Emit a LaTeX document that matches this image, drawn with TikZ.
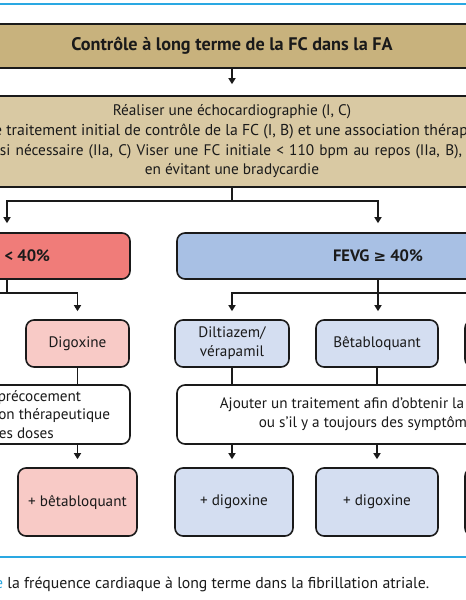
\documentclass[tikz,border=0pt]{standalone}
\usepackage{fontspec}
\setmainfont{PT Sans}
\newfontfamily\symfont{DejaVu Sans}
\usetikzlibrary{arrows.meta}
\definecolor{tanA}{HTML}{C8B27D}
\definecolor{tanB}{HTML}{D9C9A3}
\definecolor{redA}{HTML}{F07C79}
\definecolor{redB}{HTML}{F8CAC6}
\definecolor{blueA}{HTML}{A8C0E4}
\definecolor{blueB}{HTML}{D4DEF1}
\definecolor{capblue}{HTML}{2AA8E2}
\definecolor{ink}{HTML}{1A1A1A}
\begin{document}
\begin{tikzpicture}[x=1pt,y=-1pt,
  every node/.style={text=ink},
  box/.style={draw=ink, line width=1.6pt, inner sep=0pt, align=center},
  rbox/.style={box, rounded corners=8pt},
  conn/.style={draw=ink, line width=1.4pt},
  arr/.style={conn, -{Triangle[width=7pt,length=6pt]}},
  txt/.style={font=\fontsize{15.2}{18.5}\selectfont},
  btxt/.style={font=\fontsize{16.5}{19}\selectfont\bfseries}]
\useasboundingbox (0,0) rectangle (466,600);
\clip (0,0) rectangle (466,600);
\fill[white] (0,0) rectangle (466,600);
\draw[capblue, line width=1.3pt] (-5,4) -- (471,4);
\draw[capblue, line width=1.3pt] (-5,557) -- (471,557);

\node[box, fill=tanA, minimum width=540, minimum height=44, font=\fontsize{18.2}{20}\selectfont\bfseries] (title) at (232,46) {Contrôle à long terme de la FC dans la FA};
\node[box, fill=tanB, minimum width=560, minimum height=91, font=\fontsize{15.3}{19.7}\selectfont] (init) at (232,141.5)
  {Réaliser une échocardiographie (I, C)\\
   {\fontsize{15.74}{19.7}\selectfont Instaurer le traitement initial de contrôle de la FC (I, B) et une association thérapeutique}\rule{20pt}{0pt}\\
   \makebox[462pt][s]{si nécessaire (IIa, C) Viser une FC initiale < 110 bpm au repos (IIa, B),}\rule{2pt}{0pt}\\
   en évitant une bradycardie};

\node[rbox, fill=redA, minimum width=246, minimum height=46, btxt] (low) at (7,256) {FEVG < 40\%};
\node[rbox, fill=blueA, minimum width=402, minimum height=46, btxt] (high) at (378,256) {FEVG {\symfont\fontsize{15}{19}\selectfont ≥} 40\%};

\node[rbox, fill=redB, minimum width=103, minimum height=47, txt] (dig) at (77.5,343.5) {Digoxine};
\node[rbox, fill=blueB, minimum width=114, minimum height=47, txt, font=\fontsize{15.2}{19}\selectfont] (dil) at (232,343.5) {Diltiazem/\\vérapamil};
\node[rbox, fill=blueB, minimum width=122, minimum height=47, txt] (beta) at (377,343.5) {Bêtabloquant};
\node[rbox, fill=blueB, minimum width=116, minimum height=47] (far) at (523,343.5) {};

\node[rbox, fill=white, minimum width=246, minimum height=59, txt] (comb) at (7,414.5) {};
\node[font=\fontsize{15.2}{18.5}\selectfont, align=center] (combtxt) at (6,414.5)
  {Envisager précocement\\\rule{12pt}{0pt}une association thérapeutique\\à faibles doses};
\node[rbox, fill=white, minimum width=386, minimum height=59, txt, font=\fontsize{15.2}{19}\selectfont] (add) at (370,414.5)
  {Ajouter un traitement afin d’obtenir la FC cible\\ou s’il y a toujours des symptômes};

\node[rbox, fill=redB, minimum width=119, minimum height=68, txt] (b1) at (77.5,502) {+ bêtabloquant};
\node[rbox, fill=blueB, minimum width=118, minimum height=68, txt] (b2) at (234,502) {+ digoxine};
\node[rbox, fill=blueB, minimum width=122, minimum height=68, txt] (b3) at (377,502) {+ digoxine};
\node[rbox, fill=blueB, minimum width=120, minimum height=68] (b4) at (525,502) {};

\node[anchor=base west, font=\fontsize{15.8}{18}\selectfont, inner sep=0pt] (cap) at (-5,588)
  {{\color{capblue}e} la fréquence cardiaque à long terme dans la fibrillation atriale.};

% connectors
\draw[arr, shorten >=11pt] (title.south) -- (init.north);
\draw[conn] (init.south) -- ++(0,13) coordinate (j1);
\draw[arr, shorten >=9pt] (j1) -| (low.north);
\draw[arr, shorten >=9pt] (j1) -| (high.north);

\draw[conn] (low.south) -- ++(0,13) coordinate (j2);
\draw[conn] (j2) -- ++(-80,0);
\draw[arr, shorten >=8pt] (j2) -| (dig.north);

\draw[conn] (high.south) -- ++(0,13) coordinate (j3);
\draw[arr, shorten >=8pt] (j3) -| (dil.north);
\draw[arr, shorten >=8pt] (j3) -- (j3 |- beta.north);
\draw[arr, shorten >=8pt] (j3) -| (far.north);

\draw[conn] (dig.south) -- (dig.south |- comb.north);
\draw[conn] (dil.south) -- (dil.south |- add.north);
\draw[conn] (beta.south) -- (beta.south |- add.north);
\draw[conn] (far.south) -- (far.south |- add.north);

\draw[arr, shorten >=8pt] (b1.north |- comb.south) -- (b1.north);
\draw[arr, shorten >=8pt] (dil.south |- add.south) -- (dil.south |- b2.north);
\draw[arr, shorten >=8pt] (beta.south |- add.south) -- (beta.south |- b3.north);
\end{tikzpicture}
\end{document}
